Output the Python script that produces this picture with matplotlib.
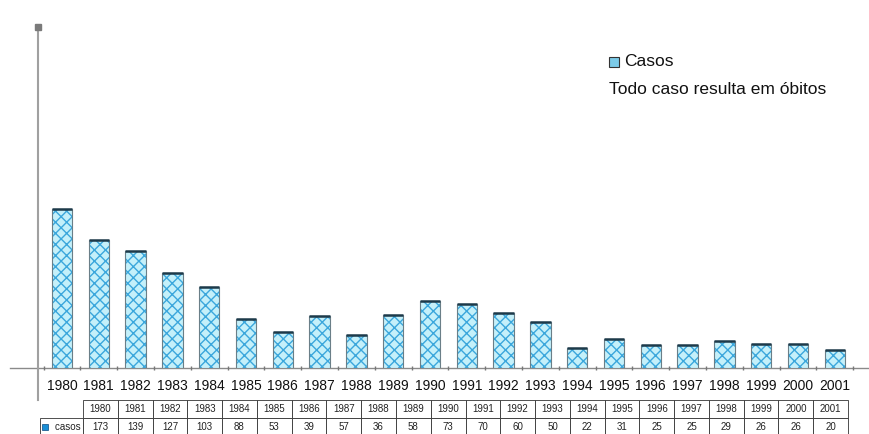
import matplotlib
matplotlib.use("Agg")
import matplotlib.pyplot as plt
from matplotlib.patches import Rectangle

plt.rcParams['font.family'] = ['Liberation Sans', 'DejaVu Sans']
plt.rcParams['hatch.linewidth'] = 1.0

years = [str(y) for y in range(1980, 2002)]
casos = [173, 139, 127, 103, 88, 53, 39, 57, 36, 58, 73, 70, 60, 50, 22, 31, 25, 25, 29, 26, 26, 20]
legend_label = "Casos"
note = "Todo caso resulta em óbitos"
row_label = "casos"

W, H = 869, 434
fig = plt.figure(figsize=(W / 100, H / 100), dpi=100)

def px_box(x0, y0, x1, y1):
    return [x0 / W, 1 - y1 / H, (x1 - x0) / W, (y1 - y0) / H]

# main axes: spans pixel x 10..869, y 22..368
ax = fig.add_axes(px_box(10, 22, 869, 368))
x = list(range(len(years)))
step = 36.8
ax.set_xlim((10 - 62) / step, (869 - 62) / step)
ax.set_ylim(0, 376)
for s in ax.spines.values():
    s.set_visible(False)

ax.bar(x, casos, width=0.55, color='#c4f0fa', edgecolor='#3ba7dc',
       hatch='xxx', linewidth=0, zorder=2)
ax.bar(x, casos, width=0.55, fill=False, edgecolor='#6a7f88', linewidth=0.8, zorder=3)
ax.hlines(casos, [i - 0.275 for i in x], [i + 0.275 for i in x],
          colors='#1d3a4a', linewidth=1.8, zorder=4)

# axis lines
ax.axhline(0, color='#8a8a8a', linewidth=1.0, zorder=1, clip_on=False)
yaxis_x = (38 - 62) / step
ax.plot([yaxis_x, yaxis_x], [-35, 370], color='#a0a0a0', linewidth=1.5,
        clip_on=False, zorder=1)
ax.plot([yaxis_x], [371], marker='s', markersize=4, color='#7a7a7a',
        clip_on=False, zorder=1)
# small tick dots on x axis
ax.plot([i + 0.5 for i in range(-1, len(years))], [0] * (len(years) + 1), '|',
        color='#777777', markersize=3, clip_on=False, zorder=1)

ax.set_xticks(x)
ax.set_xticklabels(years, fontsize=10, color='#111111')
ax.tick_params(axis='x', length=0, pad=8)
ax.set_yticks([])

# legend + note
fig.patches.append(Rectangle((609 / W, 1 - 67 / H), 10 / W, 10 / H,
                             transform=fig.transFigure, facecolor='#7ccbe8',
                             edgecolor='#333333', linewidth=0.8))
fig.text(624 / W, 1 - 62 / H, legend_label, fontsize=12.5, va='center',
         ha='left', color='#111111')
fig.text(609 / W, 1 - 90 / H, note, fontsize=12.5, va='center', ha='left',
         color='#111111')

# table
tax = fig.add_axes(px_box(40, 400, 848, 436))
tax.axis('off')
cell_text = [[""] + years, ["    " + row_label] + [str(v) for v in casos]]
label_w = 43
col_w = (808 - label_w) / len(years)
widths = [label_w / 808] + [col_w / 808] * len(years)
tbl = tax.table(cellText=cell_text, colWidths=widths, bbox=[0, 0, 1, 1],
                cellLoc='center')
tbl.auto_set_font_size(False)
for (r, c), cell in tbl.get_celld().items():
    cell.set_fontsize(7)
    cell.set_linewidth(0.6)
    cell.set_edgecolor('#333333')
    cell.get_text().set_color('#222222')
    if r == 0 and c == 0:
        cell.visible_edges = ''
    if r == 1 and c == 0:
        cell.get_text().set_ha('left')
        cell._loc = 'left'
fig.patches.append(Rectangle((42 / W, 1 - 430 / H), 6 / W, 6 / H,
                             transform=fig.transFigure, facecolor='#1a8fd6',
                             edgecolor='#0a4a80', linewidth=0.5))

fig.savefig("out.png", dpi=100)
